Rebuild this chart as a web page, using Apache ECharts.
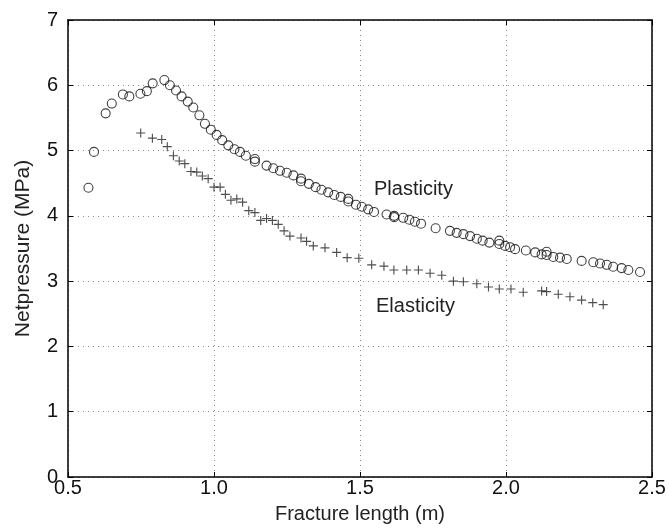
<!DOCTYPE html>
<html>
<head>
<meta charset="utf-8">
<script src="https://cdn.jsdelivr.net/npm/echarts@6/dist/echarts.min.js"></script>
<style>html,body{margin:0;padding:0;background:#fff}#chart{width:669px;height:529px}</style>
</head>
<body>
<div id="chart"></div>
<script>
var plasticityX = [0.57, 0.589, 0.629, 0.65, 0.688, 0.71, 0.748, 0.77, 0.79, 0.83, 0.849, 0.87, 0.889, 0.91, 0.929, 0.95, 0.969, 0.989, 1.009, 1.028, 1.049, 1.07, 1.089, 1.109, 1.14, 1.14,
  1.18, 1.203, 1.226, 1.249, 1.272, 1.298, 1.298, 1.325, 1.348, 1.368, 1.391, 1.412, 1.434, 1.46, 1.46, 1.486, 1.506, 1.528, 1.548, 1.591, 1.617, 1.617, 1.648, 1.669, 1.688, 1.709, 1.759,
  1.808, 1.831, 1.854, 1.877, 1.90, 1.92, 1.943, 1.977, 1.977, 1.997, 2.014, 2.031, 2.068, 2.10, 2.122, 2.139, 2.139, 2.162, 2.185, 2.208, 2.259, 2.299, 2.322, 2.345, 2.367, 2.396, 2.419, 2.459];
var plasticityY = [4.43, 4.98, 5.57, 5.72, 5.86, 5.83, 5.87, 5.91, 6.03, 6.08, 6.00, 5.92, 5.83, 5.75, 5.66, 5.54, 5.41, 5.32, 5.24, 5.16, 5.08, 5.02, 4.98, 4.92, 4.87, 4.83,
  4.77, 4.73, 4.69, 4.66, 4.62, 4.57, 4.53, 4.49, 4.44, 4.40, 4.36, 4.32, 4.29, 4.26, 4.22, 4.17, 4.14, 4.10, 4.06, 4.02, 4.00, 3.98, 3.97, 3.94, 3.91, 3.88, 3.81,
  3.77, 3.74, 3.72, 3.69, 3.65, 3.62, 3.59, 3.62, 3.57, 3.54, 3.52, 3.49, 3.47, 3.44, 3.41, 3.45, 3.40, 3.37, 3.36, 3.34, 3.31, 3.29, 3.27, 3.25, 3.22, 3.20, 3.17, 3.14];

var elasticityX = [0.749, 0.789, 0.821, 0.84, 0.861, 0.881, 0.90, 0.921, 0.941, 0.96, 0.98, 1.0, 1.021, 1.039, 1.058, 1.078, 1.098, 1.119, 1.14,
  1.16, 1.18, 1.20, 1.22, 1.24, 1.26, 1.298, 1.317, 1.34, 1.38, 1.42, 1.456, 1.496, 1.54, 1.582, 1.616, 1.66, 1.70, 1.74, 1.78, 1.82,
  1.854, 1.90, 1.94, 1.977, 2.017, 2.059, 2.122, 2.139, 2.179, 2.219, 2.259, 2.297, 2.333];
var elasticityY = [5.27, 5.19, 5.17, 5.06, 4.92, 4.84, 4.80, 4.68, 4.67, 4.61, 4.57, 4.44, 4.44, 4.33, 4.24, 4.26, 4.21, 4.08, 4.05,
  3.93, 3.96, 3.93, 3.87, 3.77, 3.69, 3.66, 3.61, 3.54, 3.51, 3.44, 3.36, 3.35, 3.25, 3.23, 3.17, 3.17, 3.17, 3.12, 3.09, 3.00,
  2.99, 2.96, 2.91, 2.88, 2.88, 2.83, 2.85, 2.84, 2.80, 2.76, 2.71, 2.67, 2.64];

var xTicks = ['0.5', '1.0', '1.5', '2.0', '2.5'];
var yTicks = ['0', '1', '2', '3', '4', '5', '6', '7'];

function pairs(xs, ys) {
  return xs.map(function (x, i) { return [x, ys[i]]; });
}

var font = 'Liberation Sans, Arial, Helvetica, sans-serif';
var plusPath = 'path://M7,0h2v7h7v2h-7v7h-2v-7h-7v-2h7z';

var chart = echarts.init(document.getElementById('chart'), null, {renderer: 'canvas'});
var gridLine = {show: true, lineStyle: {color: '#8a8a8a', type: [1, 4], width: 1}};
var option = {
  animation: false,
  backgroundColor: '#fff',
  grid: {left: 68, right: 17, top: 20, bottom: 49},
  xAxis: [{
    type: 'value', min: 0.5, max: 2.5, interval: 0.5,
    name: 'Fracture length (m)', nameLocation: 'middle', nameGap: 27,
    nameTextStyle: {fontFamily: font, fontSize: 20, color: '#222'},
    axisLine: {show: true, onZero: false, lineStyle: {color: '#000', width: 1.5}},
    axisTick: {show: true, inside: true, length: 5, lineStyle: {color: '#000'}},
    axisLabel: {fontFamily: font, fontSize: 20, color: '#111', margin: 1,
      formatter: function (v) { return xTicks[Math.round((v - 0.5) / 0.5)]; }},
    splitLine: gridLine
  }, {
    type: 'value', position: 'top', min: 0.5, max: 2.5, interval: 0.5,
    axisLine: {show: true, onZero: false, lineStyle: {color: '#000', width: 1.5}},
    axisTick: {show: true, inside: true, length: 5, lineStyle: {color: '#000'}},
    axisLabel: {show: false}, splitLine: {show: false}
  }],
  yAxis: [{
    type: 'value', min: 0, max: 7, interval: 1,
    name: 'Netpressure (MPa)', nameLocation: 'middle', nameGap: 34,
    nameTextStyle: {fontFamily: font, fontSize: 21, color: '#222'},
    axisLine: {show: true, onZero: false, lineStyle: {color: '#000', width: 1.5}},
    axisTick: {show: true, inside: true, length: 5, lineStyle: {color: '#000'}},
    axisLabel: {fontFamily: font, fontSize: 20, color: '#111', margin: 10,
      formatter: function (v) { return yTicks[v]; }},
    splitLine: gridLine
  }, {
    type: 'value', position: 'right', min: 0, max: 7, interval: 1,
    axisLine: {show: true, onZero: false, lineStyle: {color: '#000', width: 1.5}},
    axisTick: {show: true, inside: true, length: 5, lineStyle: {color: '#000'}},
    axisLabel: {show: false}, splitLine: {show: false}
  }],
  series: [{
    name: 'Plasticity', type: 'scatter',
    data: pairs(plasticityX, plasticityY),
    symbol: 'circle', symbolSize: 9,
    itemStyle: {color: 'rgba(0,0,0,0)', borderColor: '#111', borderWidth: 1.1}
  }, {
    name: 'Elasticity', type: 'scatter',
    data: pairs(elasticityX, elasticityY),
    symbol: plusPath, symbolSize: 9,
    itemStyle: {color: '#222'}
  }],
  graphic: [{
    type: 'text', left: 374, top: 179,
    style: {text: 'Plasticity', font: '20px ' + font, fill: '#222'}
  }, {
    type: 'text', left: 376, top: 296,
    style: {text: 'Elasticity', font: '20px ' + font, fill: '#222'}
  }]
};
chart.setOption(option);
</script>
</body>
</html>
